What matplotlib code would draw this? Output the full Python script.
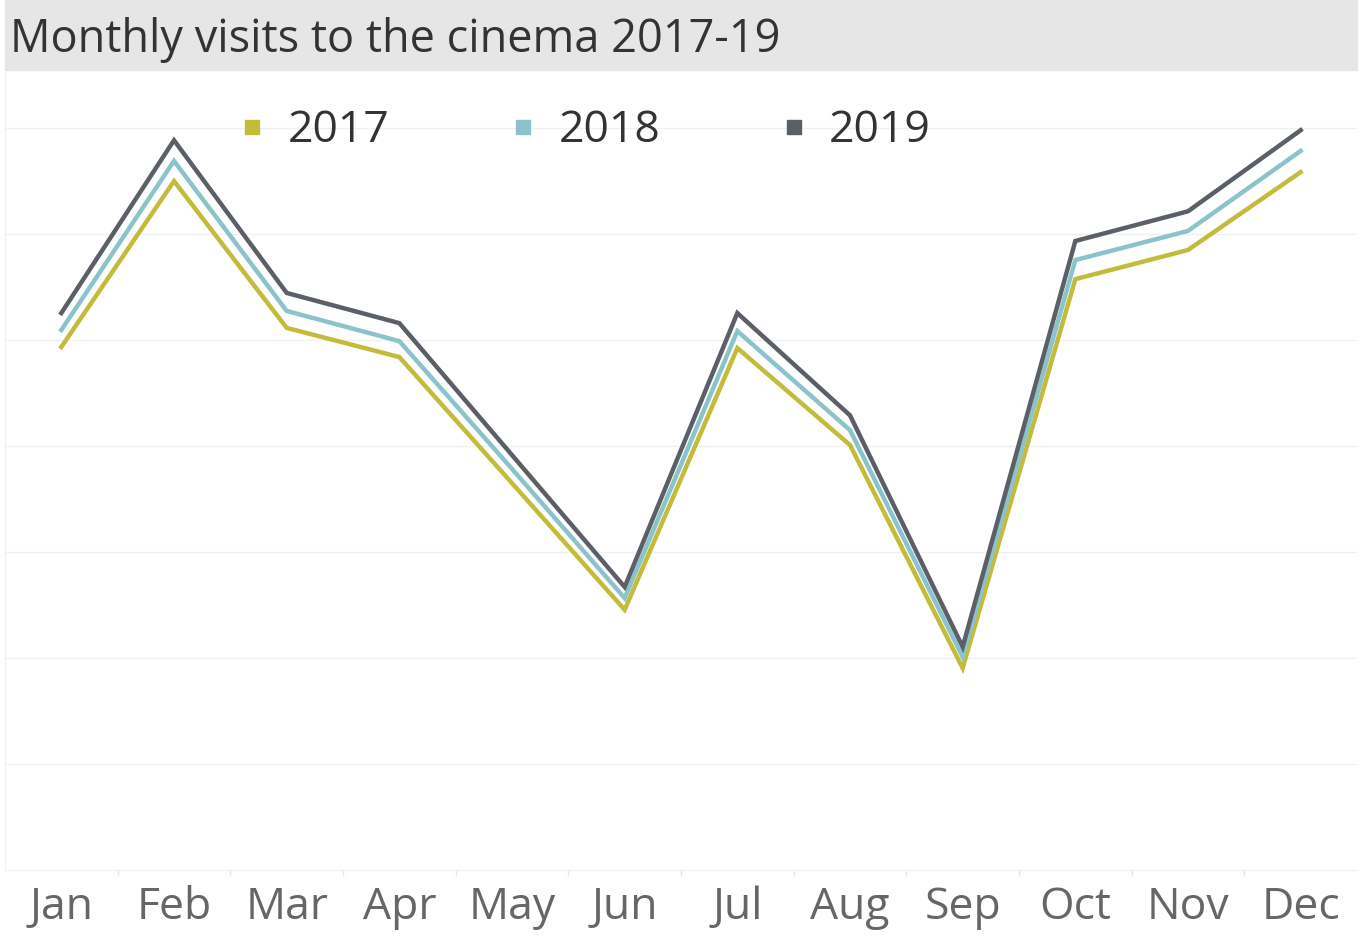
import matplotlib.pyplot as plt
from matplotlib.patches import Rectangle
from matplotlib.lines import Line2D

plt.rcParams['font.family'] = ['Open Sans', 'DejaVu Sans']

months = ['Jan', 'Feb', 'Mar', 'Apr', 'May', 'Jun',
          'Jul', 'Aug', 'Sep', 'Oct', 'Nov', 'Dec']
years = ['2017', '2018', '2019']
# monthly visits (millions)
visits_2017 = [9.87, 13.0, 10.23, 9.68, 7.30, 4.91, 9.85, 8.02, 3.81, 11.15, 11.70, 13.17]
visits_2018 = [10.19, 13.38, 10.55, 9.98, 7.57, 5.13, 10.17, 8.30, 4.02, 11.51, 12.06, 13.57]
visits_2019 = [10.51, 13.77, 10.89, 10.32, 7.83, 5.34, 10.51, 8.58, 4.21, 11.87, 12.43, 13.96]
colors = ['#c3bb3a', '#8cc3cb', '#5b6068']

W, H = 1361, 936
fig = plt.figure(figsize=(W / 100, H / 100), dpi=100)

# title band
fig.patches.append(Rectangle((5 / W, 1 - 70 / H), 1352 / W, 70 / H,
                             transform=fig.transFigure, color='#e6e6e6', zorder=0))
fig.text(10 / W, 1 - 52 / H, 'Monthly visits to the cinema 2017-19',
         fontsize=32.5, color='#333333', va='baseline', ha='left')

ax = fig.add_axes([5 / W, 66 / H, 1352 / W, (870 - 73) / H])
x = list(range(len(months)))
for vals, c, lab in zip([visits_2017, visits_2018, visits_2019], colors, years):
    ax.plot(x, vals, color=c, lw=3.2, label=lab, solid_joinstyle='miter')

ax.set_xlim(-0.5, 11.5)
ax.set_ylim(0, 15.04)
ax.set_yticks(range(2, 15, 2))
ax.yaxis.grid(True, color='#f0f0f0', lw=1)
ax.set_axisbelow(True)
ax.tick_params(axis='y', left=False, labelleft=False)
ax.set_xticks(x)
ax.set_xticklabels(months)
ax.tick_params(axis='x', length=0, labelsize=32, labelcolor='#666666', pad=11)
ax.set_xticks([i + 0.5 for i in range(11)], minor=True)
ax.tick_params(axis='x', which='minor', length=4, color='#e8e8e8', width=1)
for s in ['top', 'right']:
    ax.spines[s].set_visible(False)
ax.spines['left'].set_color('#f0f0f0')
ax.spines['bottom'].set_color('#f0f0f0')

handles = [Line2D([], [], ls='none', marker='s', markersize=10, color=c) for c in colors]
fig.legend(handles, years, loc='center', bbox_to_anchor=(585 / W, 1 - 131 / H),
           ncol=3, frameon=False, fontsize=32, labelcolor='#333333',
           handlelength=0.6, handletextpad=0.5, columnspacing=2.7)

fig.savefig('out.png', dpi=100)
